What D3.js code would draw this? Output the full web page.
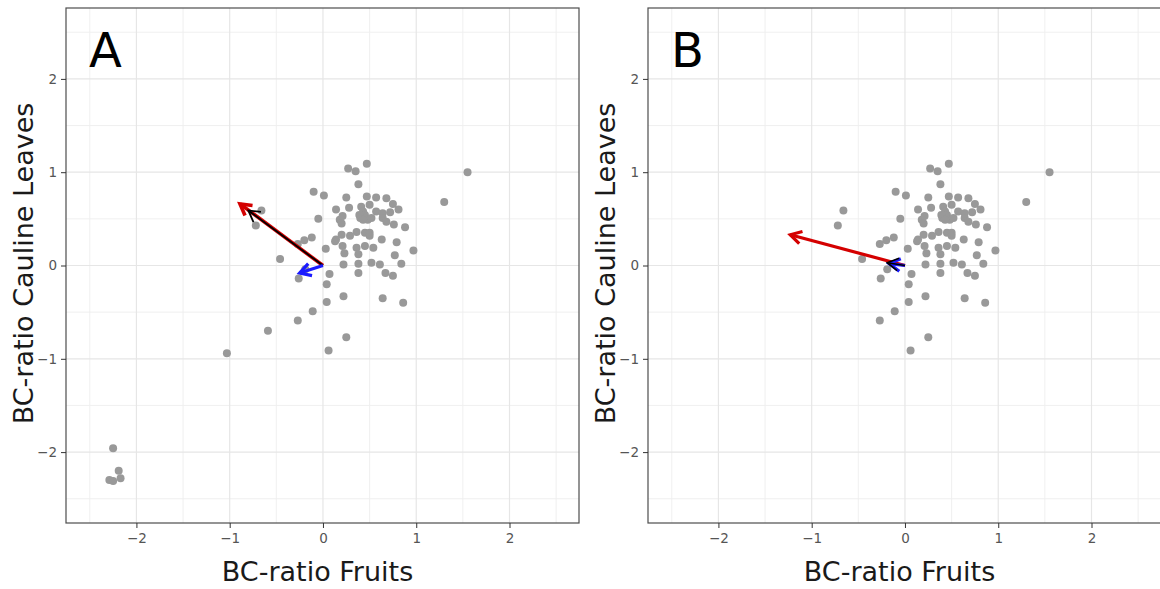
<!DOCTYPE html>
<html>
<head>
<meta charset="utf-8">
<script src="https://cdnjs.cloudflare.com/ajax/libs/d3/7.8.5/d3.min.js"></script>
<style>
  body { margin: 0; background: #fff; }
  svg { display: block; }
  .tick text { font-family: "DejaVu Sans", sans-serif; font-size: 13.5px; fill: #555; }
  .tick line { stroke: #333; }
</style>
</head>
<body>
<div class="canva"></div>
<script>
const width = 1160;
const height = 589;

// tick values (both axes)
const xTicks = [-2, -1, 0, 1, 2];
const yTicks = [-2, -1, 0, 1, 2];
const minorTicks = [-2.5, -1.5, -0.5, 0.5, 1.5, 2.5];

// points shown in both panels [BC-ratio Fruits, BC-ratio Cauline Leaves]
const sharedPoints = [
  [0.27, 1.04], [0.35, 1.01], [0.47, 1.09], [0.38, 0.87], [-0.10, 0.79], [0.01, 0.75],
  [1.55, 1.00], [1.30, 0.68],
  [0.25, 0.73], [0.47, 0.74], [0.57, 0.73], [0.68, 0.72], [0.75, 0.66], [0.81, 0.60],
  [0.14, 0.60], [0.28, 0.62], [0.41, 0.63], [0.50, 0.65], [0.57, 0.58], [0.64, 0.56], [0.72, 0.57],
  [0.43, 0.58], [0.40, 0.51], [0.45, 0.54], [0.48, 0.49], [0.52, 0.51], [0.64, 0.51], [0.68, 0.47], [0.76, 0.44],
  [-0.05, 0.50], [0.18, 0.49], [0.21, 0.53], [0.20, 0.45], [0.39, 0.54], [0.43, 0.49],
  [-0.66, 0.59], [-0.72, 0.43], [0.88, 0.41],
  [0.14, 0.28], [0.20, 0.33], [0.13, 0.26], [0.29, 0.32], [0.36, 0.36], [0.45, 0.35], [0.50, 0.35],
  [0.50, 0.32], [0.63, 0.28], [0.79, 0.25],
  [0.97, 0.16], [0.77, 0.11],
  [-0.27, 0.23], [-0.20, 0.27], [-0.12, 0.30],
  [0.03, 0.18], [0.21, 0.21], [0.23, 0.13], [0.36, 0.19], [0.38, 0.12], [0.45, 0.21], [0.54, 0.19],
  [-0.46, 0.07], [-0.19, -0.04], [0.22, 0.01], [0.38, 0.02], [0.52, 0.03], [0.61, 0.01], [0.84, 0.02],
  [-0.26, -0.14], [0.07, -0.09], [0.38, -0.08], [0.04, -0.20], [0.67, -0.08], [0.75, -0.11],
  [0.22, -0.33], [0.64, -0.35], [0.04, -0.39], [0.86, -0.40], [-0.11, -0.49], [-0.27, -0.59],
  [0.25, -0.77], [0.06, -0.91]
];

// extra points only in panel A
const extraPointsA = [
  [-1.03, -0.94], [-0.59, -0.70],
  [-2.25, -1.96], [-2.19, -2.20], [-2.29, -2.30], [-2.25, -2.31], [-2.17, -2.28]
];

// arrows from the origin: [x end, y end, colour, width]
const arrowsA = [
  [-0.89, 0.66, '#d40000', 3.6],
  [-0.80, 0.59, '#000000', 1.8],
  [-0.25, -0.08, '#1a1aff', 3.2]
];
const arrowsB = [
  [-1.23, 0.33, '#d40000', 3.2],
  [-0.17, 0.02, '#1a1aff', 3.2],
  [-0.19, 0.03, '#000000', 1.6]
];

const svg = d3.select('.canva').append('svg')
  .attr('width', width)
  .attr('height', height);

const defs = svg.append('defs');
let markerCount = 0;

function drawPanel(left, tag, points, arrows) {
  const x = d3.scaleLinear().domain([-2.755, 2.745]).range([left, left + 513]);
  const y = d3.scaleLinear().domain([-2.76, 2.76]).range([523, 8]);
  const g = svg.append('g');

  // grid
  g.selectAll('.minx').data(minorTicks).enter().append('line')
    .attr('x1', d => x(d)).attr('x2', d => x(d))
    .attr('y1', y.range()[0]).attr('y2', y.range()[1])
    .attr('stroke', '#eeeeee').attr('stroke-width', 0.9);
  g.selectAll('.miny').data(minorTicks).enter().append('line')
    .attr('y1', d => y(d)).attr('y2', d => y(d))
    .attr('x1', x.range()[0]).attr('x2', x.range()[1])
    .attr('stroke', '#eeeeee').attr('stroke-width', 0.9);
  g.selectAll('.majx').data(xTicks).enter().append('line')
    .attr('x1', d => x(d)).attr('x2', d => x(d))
    .attr('y1', y.range()[0]).attr('y2', y.range()[1])
    .attr('stroke', '#e6e6e6').attr('stroke-width', 1.2);
  g.selectAll('.majy').data(yTicks).enter().append('line')
    .attr('y1', d => y(d)).attr('y2', d => y(d))
    .attr('x1', x.range()[0]).attr('x2', x.range()[1])
    .attr('stroke', '#e6e6e6').attr('stroke-width', 1.2);

  // points
  g.selectAll('circle').data(points).enter().append('circle')
    .attr('cx', d => x(d[0]))
    .attr('cy', d => y(d[1]))
    .attr('r', 4)
    .attr('fill', '#999999');

  // arrows
  arrows.forEach(a => {
    const id = 'head' + (markerCount++);
    defs.append('marker')
      .attr('id', id)
      .attr('markerUnits', 'userSpaceOnUse')
      .attr('viewBox', '-16 -10 20 20')
      .attr('refX', 0).attr('refY', 0)
      .attr('markerWidth', 20).attr('markerHeight', 20)
      .attr('orient', 'auto')
      .append('path')
      .attr('d', 'M-11,-6.3L0,0L-11,6.3')
      .attr('fill', 'none')
      .attr('stroke', a[2])
      .attr('stroke-width', a[3])
      .attr('stroke-linejoin', 'miter');
    g.append('line')
      .attr('x1', x(0)).attr('y1', y(0))
      .attr('x2', x(a[0])).attr('y2', y(a[1]))
      .attr('stroke', a[2])
      .attr('stroke-width', a[3])
      .attr('marker-end', 'url(#' + id + ')');
  });

  // border
  g.append('rect')
    .attr('x', x.range()[0]).attr('y', y.range()[1])
    .attr('width', x.range()[1] - x.range()[0])
    .attr('height', y.range()[0] - y.range()[1])
    .attr('fill', 'none').attr('stroke', '#4d4d4d').attr('stroke-width', 1.2);

  // axes
  const ax = g.append('g').attr('transform', 'translate(0,523)')
    .call(d3.axisBottom(x).tickValues(xTicks).tickSize(5).tickPadding(5).tickFormat(d3.format('d')));
  ax.select('.domain').remove();
  const ay = g.append('g').attr('transform', 'translate(' + left + ',0)')
    .call(d3.axisLeft(y).tickValues(yTicks).tickSize(5).tickPadding(4).tickFormat(d3.format('d')));
  ay.select('.domain').remove();

  // titles
  g.append('text')
    .attr('x', (x.range()[0] + x.range()[1]) / 2 - 5)
    .attr('y', 581)
    .attr('text-anchor', 'middle')
    .style('font-family', '"DejaVu Sans", sans-serif')
    .style('font-size', '27px')
    .attr('fill', '#1a1a1a')
    .text('BC-ratio Fruits');
  g.append('text')
    .attr('transform', 'translate(' + (left - 33) + ',' + (y(0) - 2) + ') rotate(-90)')
    .attr('text-anchor', 'middle')
    .style('font-family', '"DejaVu Sans", sans-serif')
    .style('font-size', '27px')
    .attr('fill', '#1a1a1a')
    .text('BC-ratio Cauline Leaves');

  // panel tag
  g.append('text')
    .attr('x', left + 23)
    .attr('y', 67)
    .style('font-family', '"DejaVu Sans", sans-serif')
    .style('font-size', '48px')
    .attr('fill', '#000')
    .text(tag);
}

drawPanel(66, 'A', sharedPoints.concat(extraPointsA), arrowsA);
drawPanel(648, 'B', sharedPoints, arrowsB);
</script>
</body>
</html>
